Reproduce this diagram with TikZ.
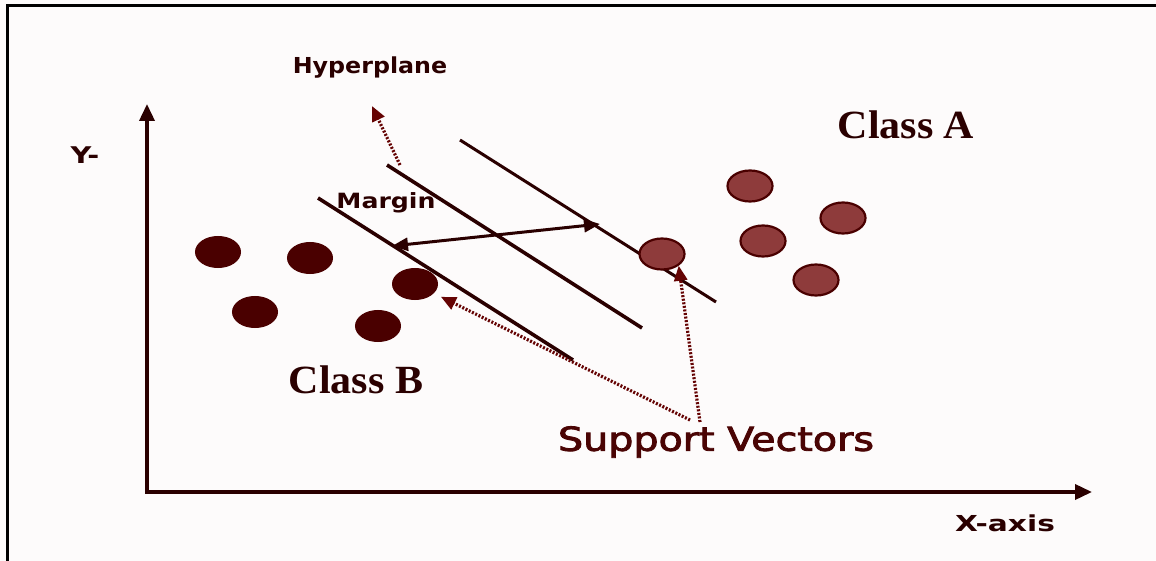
\documentclass[tikz,border=0pt]{standalone}
\usepackage{fontspec}
\setmainfont{Liberation Serif}
\setsansfont{DejaVu Sans}
\newfontfamily\svfont[FakeBold=2.5]{DejaVu Sans}
\usetikzlibrary{arrows.meta,shapes.geometric}
\definecolor{ink}{HTML}{2A0000}
\definecolor{maroon}{HTML}{4A0404}
\definecolor{dotB}{HTML}{4A0000}
\definecolor{dotA}{HTML}{8E3B3B}
\definecolor{paper}{HTML}{FDFBFB}
\begin{document}
\begin{tikzpicture}[x=1pt,y=-1pt,
  axis/.style={draw=ink,line width=3.6pt,-{Triangle[length=17pt,width=15pt]}},
  planeline/.style={draw=ink,line width=3.6pt},
  pointer/.style={draw=maroon!85!red,line width=3.2pt,dash pattern=on 2pt off 1.6pt,
    -{Triangle[length=15pt,width=13pt]}},
  clsB/.style={ellipse,fill=dotB,draw=dotB,line width=1pt,minimum width=45pt,minimum height=31pt,inner sep=0pt},
  clsA/.style={ellipse,fill=dotA,draw=dotB,line width=2.2pt,minimum width=45pt,minimum height=31pt,inner sep=0pt},
  lab/.style={text=ink,inner sep=0pt},
  cls/.style={font=\bfseries\fontsize{40}{40}\selectfont,text=ink,inner sep=0pt}]
  \useasboundingbox (0,0) rectangle (1156,561);
  \fill[paper] (0,0) rectangle (1156,561);
  % frame edges
  \draw[black,line width=3pt] (7,561) -- (7,6) -- (1156,6);

  % axes
  \coordinate (o) at (147,492);
  \coordinate (ytop) at (147,104);
  \coordinate (xend) at (1092,492);
  \draw[axis] (o) -- (ytop);
  \draw[axis] ([xshift=-1.8pt]o) -- (xend);
  \node[lab,font=\sffamily\bfseries\fontsize{23}{23}\selectfont] (ylab) at (85,155) {\scalebox{1.25}[1]{Y-}};
  \node[lab,font=\sffamily\bfseries\fontsize{22}{22}\selectfont] (xlab) at (1005,523) {\scalebox{1.35}[1]{X-axis}};

  % margin lines and hyperplane
  \coordinate (m1a) at (318,198); \coordinate (m1b) at (573,360);
  \coordinate (hpa) at (387,165); \coordinate (hpb) at (642,328);
  \coordinate (m2a) at (460,140); \coordinate (m2b) at (716,302);
  \draw[planeline] (m1a) -- (m1b);
  \draw[planeline] (hpa) -- (hpb);
  \draw[planeline,line width=3pt] (m2a) -- (m2b);

  % margin width
  \coordinate (mg1) at (392,246);
  \coordinate (mg2) at (600,224);
  \draw[draw=ink,line width=3pt,{Triangle[length=16pt,width=13pt]}-{Triangle[length=16pt,width=13pt]}] (mg1) -- (mg2);
  \node[lab,font=\sffamily\bfseries\fontsize{21}{21}\selectfont] (margin) at (386,203) {\scalebox{1.2}[1]{Margin}};

  % hyperplane label
  \node[lab,font=\sffamily\bfseries\fontsize{22}{22}\selectfont] (hyper) at (370,68) {\scalebox{1.08}[1]{Hyperplane}};
  \coordinate (hpp) at (400,165);
  \draw[pointer] (hpp) -- (372,106);

  % class B points
  \node[clsB] (b1) at (218,252) {};
  \node[clsB] (b2) at (310,258) {};
  \node[clsB] (b3) at (415,284) {};
  \node[clsB] (b4) at (255,312) {};
  \node[clsB] (b5) at (378,326) {};
  % class A points
  \node[clsA] (a1) at (662,254) {};
  \node[clsA] (a2) at (750,186) {};
  \node[clsA] (a3) at (843,218) {};
  \node[clsA] (a4) at (763,241) {};
  \node[clsA] (a5) at (816,280) {};

  % class labels
  \node[cls] (classA) at (906,125) {\scalebox{1.05}[1]{Class A}};
  \node[cls] (classB) at (356,380) {\scalebox{1.05}[1]{Class B}};

  % support vectors
  \node[font=\svfont\fontsize{33}{33}\selectfont,text=maroon,inner sep=0pt] (sv) at (716,442) {\scalebox{1.2}[1]{Support Vectors}};
  \coordinate (sv1) at (690,420);
  \coordinate (sv2) at (700,422);
  \draw[pointer,shorten >=8pt] (sv1) -- (b3);
  \draw[pointer] (sv2) -- (a1.south east);
\end{tikzpicture}
\end{document}
